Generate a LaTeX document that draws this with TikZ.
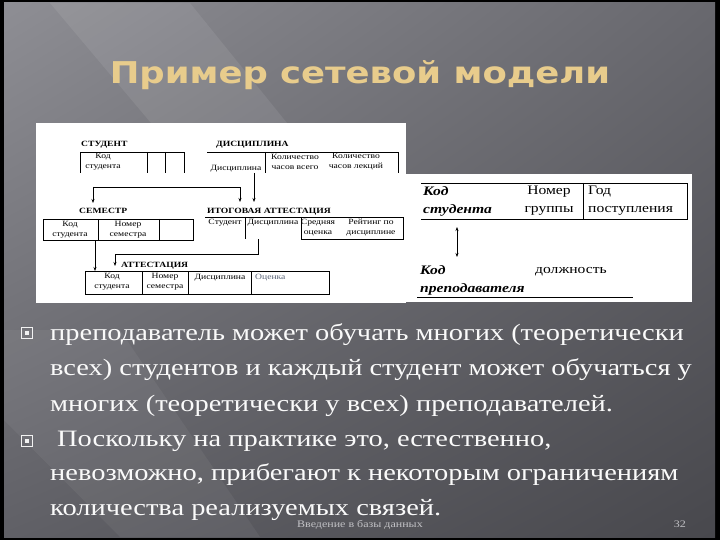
\documentclass[tikz,border=0pt]{standalone}
\usepackage{fontspec}
\setmainfont{Liberation Serif}
\newfontfamily\slidefont[FakeStretch=1.21]{Liberation Serif}
\newfontfamily\tabfont[FakeStretch=1.2]{Liberation Serif}
\newfontfamily\titlefont[FakeStretch=1.18]{DejaVu Sans}
\usepackage{xcolor}
\usepackage{tikz}
\usetikzlibrary{
  arrows.meta,
  calc,
  positioning,
  shadings
}
\definecolor{bgUL}{HTML}{8E8E94}
\definecolor{bgUR}{HTML}{68686E}
\definecolor{bgLL}{HTML}{606066}
\definecolor{bgLR}{HTML}{48484D}
\definecolor{titlegold}{HTML}{E8CC8C}
\definecolor{footgray}{HTML}{C2C2C6}
\definecolor{markblue}{HTML}{5A6478}
\tikzset{
  >=Stealth,
  line cap=round,
  line join=round,
  tabline/.style={line width=0.7pt, black},
  tabtitle/.style={font=\tabfont\bfseries\fontsize{8}{9}\selectfont, inner sep=0pt, anchor=base west},
  cell/.style={font=\tabfont\fontsize{8}{10}\selectfont, inner sep=0pt, align=center},
  bigcell/.style={font=\tabfont\fontsize{13}{18}\selectfont, inner sep=0pt, align=left},
  keycell/.style={bigcell, font=\tabfont\bfseries\itshape\fontsize{13}{18}\selectfont},
  link/.style={-{Stealth[length=4pt,width=3pt]}, line width=0.7pt},
  twoway/.style={{Stealth[length=4pt,width=3pt]}-{Stealth[length=4pt,width=3pt]}, line width=0.7pt},
  slideline/.style={font=\slidefont\fontsize{23.5}{35}\selectfont, text=white!96!gray, inner sep=0pt, anchor=base west},
  bulletbox/.style={draw=white!90!gray, line width=0.8pt, minimum size=11pt, inner sep=0pt},
  bulletdot/.style={fill=white!90!gray, minimum size=4pt, inner sep=0pt},
  foot/.style={font=\tabfont\fontsize{10}{11}\selectfont, text=footgray, inner sep=0pt}
}
\begin{document}
\begin{tikzpicture}[x=1pt, y=-1pt]
    \useasboundingbox (0,0) rectangle (720,540);
    % slide background
    \fill[black] (0,0) rectangle (720,540);
    \shade[upper left=bgUL, upper right=bgUR, lower left=bgLL, lower right=bgLR] (4,3) rectangle (715,537);
    \fill[white, opacity=0.08] (50,3) -- (190,3) -- (430,300) -- (300,300) -- cycle;
    \fill[white, opacity=0.05] (4,330) -- (120,330) -- (260,537) -- (120,537) -- (4,420) -- cycle;

    \node[font=\titlefont\bfseries\fontsize{30}{36}\selectfont, text=titlegold, anchor=base] (title) at (360,84) {Пример сетевой модели};

    % picture panels
    \fill[white] (36,123) rectangle (406,303);
    \fill[white] (406,174) rectangle (692,302);

    % СТУДЕНТ
    \node[tabtitle] (st-title) at (81,147) {СТУДЕНТ};
    \draw[tabline] (80,173) -- (80,152) -- (184,152) -- (184,173) (147,152) -- (147,173) (165,152) -- (165,173);
    \node[cell] (st-kod) at (103,162) {Код\\студента};

    % ДИСЦИПЛИНА
    \node[tabtitle] (di-title) at (216,147) {ДИСЦИПЛИНА};
    \draw[tabline] (207,152) -- (398,152) -- (398,173) (265,152) -- (265,173);
    \node[cell, anchor=base] (di-name) at (236,171) {Дисциплина};
    \node[cell] (di-all) at (295,162) {Количество\\часов всего};
    \node[cell] (di-lec) at (356,162) {Количество\\часов лекций};

    \coordinate (di-out) at (254,173);
    \coordinate (it-in2) at (254,202);
    \coordinate (st-bend) at (93,187);
    \coordinate (sm-in) at (93,203);
    \coordinate (it-in1) at (240,202);
    \draw[link] (di-out) -- (it-in2);
    \draw[link] (st-bend) -| (it-in1);
    \draw[link] (st-bend) -- (sm-in);

    % СЕМЕСТР
    \node[tabtitle] (sm-title) at (79,214) {СЕМЕСТР};
    \draw[tabline] (43,219) rectangle (193,240) (98,219) -- (98,240) (159,219) -- (159,240);
    \node[cell] (sm-kod) at (70,230) {Код\\студента};
    \node[cell] (sm-nom) at (128,230) {Номер\\семестра};

    % ИТОГОВАЯ АТТЕСТАЦИЯ
    \node[tabtitle] (it-title) at (207,214) {ИТОГОВАЯ АТТЕСТАЦИЯ};
    \draw[tabline] (205,217) -- (403,217) -- (403,239) -- (301,239) (245,217) -- (245,239) (301,217) -- (301,239);
    \node[cell, anchor=base] (it-st) at (225,225) {Студент};
    \node[cell, anchor=base] (it-di) at (273,225) {Дисциплина};
    \node[cell] (it-sr) at (318,228) {Средняя\\оценка};
    \node[cell] (it-rt) at (371,228) {Рейтинг по\\дисциплине};

    % АТТЕСТАЦИЯ
    \node[tabtitle] (at-title) at (121,267) {АТТЕСТАЦИЯ};
    \draw[tabline] (85,271) rectangle (329,294) (142,271) -- (142,294) (188,271) -- (188,294) (251,271) -- (251,294);
    \node[cell] (at-kod) at (112,282) {Код\\студента};
    \node[cell] (at-nom) at (165,282) {Номер\\семестра};
    \node[cell, anchor=base] (at-di) at (220,279) {Дисциплина};
    \node[cell, anchor=base west, text=markblue] (at-oc) at (255,279) {Оценка};

    \coordinate (sm-out) at (95,240);
    \coordinate (at-in1) at (95,271);
    \coordinate (it-out) at (258,239);
    \coordinate (at-in2) at (115,266);
    \draw[link] (sm-out) -- (at-in1);
    \draw[link] (it-out) -- ++(0,15) -| (at-in2);

    % right panel
    \draw[tabline] (421,183) -- (687,183) -- (687,219) -- (421,219) (583,183) -- (583,219);
    \node[keycell, anchor=west] (rk-kod) at (423,201) {Код\\студента};
    \node[bigcell, align=center] (rk-grp) at (549,201) {Номер\\группы};
    \node[bigcell, anchor=west] (rk-god) at (588,201) {Год\\поступления};
    \coordinate (rk-a) at (457,227);
    \coordinate (rk-b) at (457,257);
    \draw[twoway] (rk-a) -- (rk-b);
    \node[keycell, anchor=west] (rk-prep) at (420,280) {Код\\преподавателя};
    \node[bigcell, anchor=base west] (rk-dol) at (535,273) {должность};
    \draw[tabline] (417,297) -- (633,297);

    % bullets
    \node[bulletbox] (bul1) at (27,333) {};
    \node[bulletdot] (bul1-dot) at (bul1) {};
    \node[bulletbox] (bul2) at (27,441) {};
    \node[bulletdot] (bul2-dot) at (bul2) {};
    \node[slideline] (line1) at (50,340) {преподаватель может обучать многих (теоретически};
    \node[slideline] (line2) at (50,375) {всех) студентов и каждый студент может обучаться у};
    \node[slideline] (line3) at (50,411) {многих (теоретически у всех) преподавателей.};
    \node[slideline] (line4) at (57,446) {Поскольку на практике это, естественно,};
    \node[slideline] (line5) at (50,480) {невозможно, прибегают к некоторым ограничениям};
    \node[slideline] (line6) at (50,515) {количества реализуемых связей.};

    \node[foot, anchor=base west] (foot-txt) at (297,527) {Введение в базы данных};
    \node[foot, anchor=base east] (foot-num) at (686,527) {32};
  \end{tikzpicture}
\end{document}
